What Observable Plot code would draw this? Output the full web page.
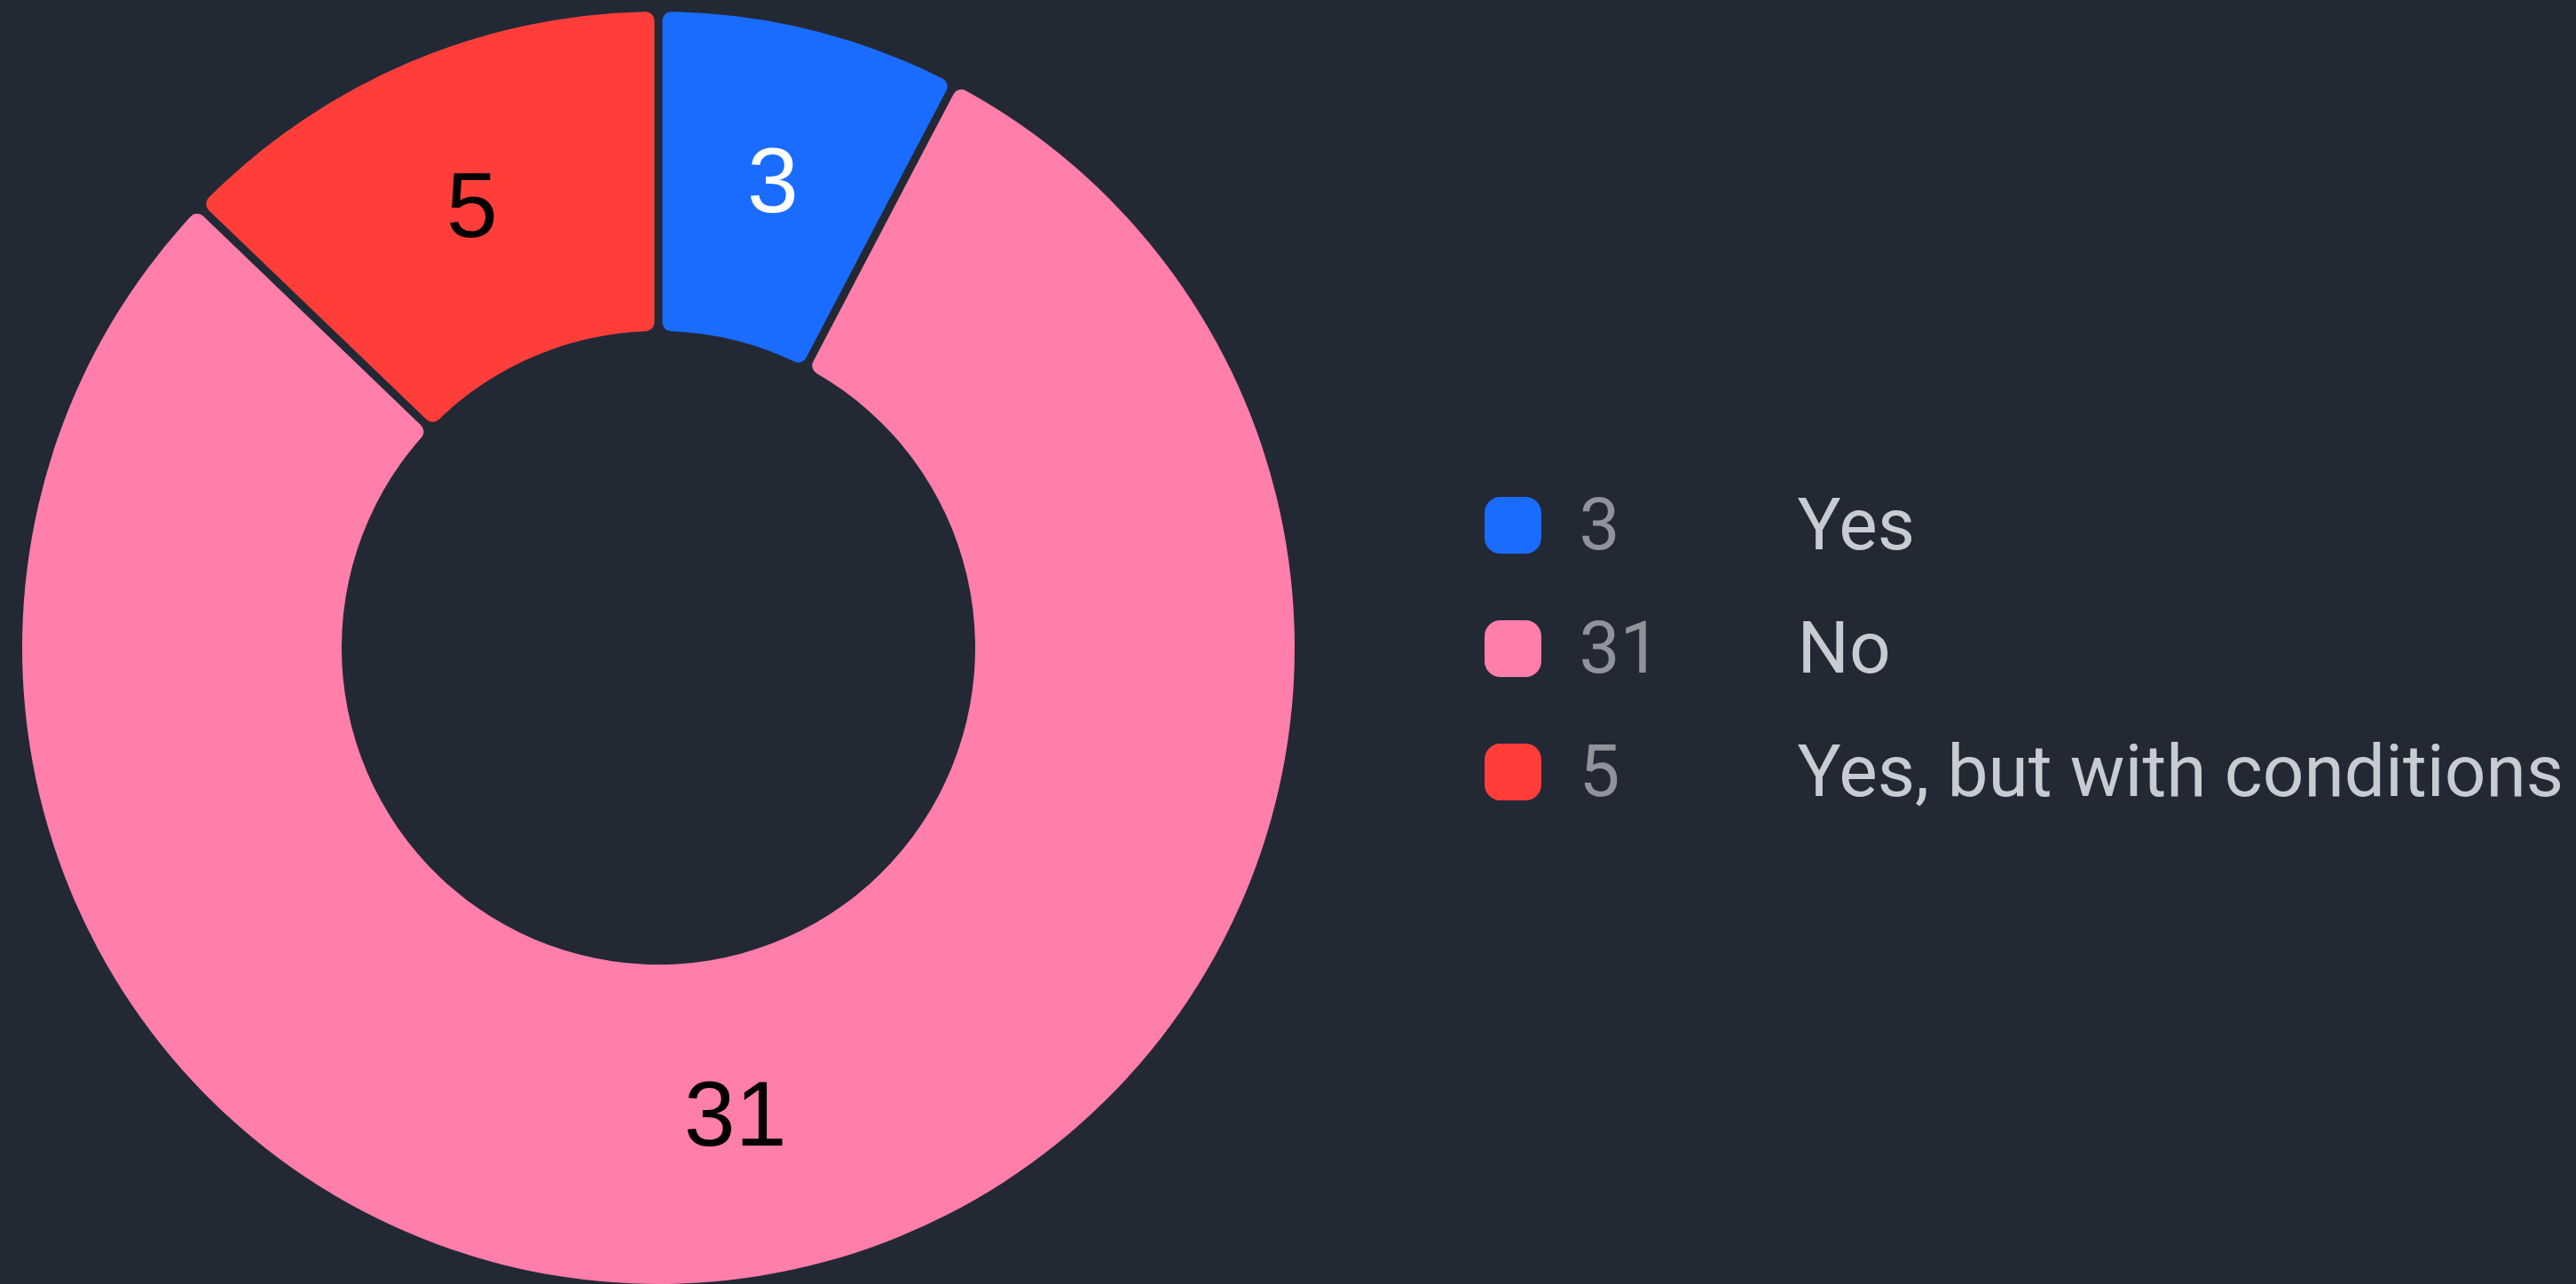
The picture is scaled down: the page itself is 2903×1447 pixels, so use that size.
<!DOCTYPE html>
<html>
<head>
<meta charset="utf-8">
<script src="https://cdn.jsdelivr.net/npm/d3@7"></script>
<script src="https://cdn.jsdelivr.net/npm/@observablehq/plot@0.6"></script>
<style>
  html, body { margin: 0; padding: 0; background: #232835; }
  #page { position: relative; width: 2903px; height: 1447px; overflow: hidden; background: #232835; }
  #donut { position: absolute; left: 0; top: 0; }
  #legend { position: absolute; left: 1640px; top: 0; }
</style>
</head>
<body>
<div id="page"><div id="donut"></div><div id="legend"></div></div>
<script>
// ---- data ----
const categories = ["Yes", "No", "Yes, but with conditions"];
const counts = [3, 31, 5];
const colors = ["#1a6cff", "#ff7eaa", "#ff3e3a"];
const labelColors = ["#ffffff", "#000000", "#000000"];

// ---- layout ----
const W = 1500, H = 1447, CX = 742, CY = 730, R_OUT = 717, R_IN = 357;
const GAP = 9, CORNER = 10;

const data = categories.map((c, i) => ({category: c, count: counts[i], labelColor: labelColors[i]}));
const colorScale = Plot.scale({color: {type: "ordinal", domain: categories, range: colors}});

const ri = R_IN / R_OUT;
const pie = d3.pie().sort(null).value(d => d.count)(data);
const unitArc = d3.arc().innerRadius(ri).outerRadius(1);
const slices = pie.map(p => {
  const [ux, uy] = unitArc.centroid(p);
  return {...p, category: p.data.category, count: p.data.count, labelColor: p.data.labelColor, cx: ux, cy: -uy};
});

function arcsMark(index, scales) {
  const x0 = scales.x(0), y0 = scales.y(0);
  const rPx = scales.x(1) - x0;
  const arc = d3.arc()
    .innerRadius(ri * rPx)
    .outerRadius(rPx)
    .padAngle(GAP / Math.hypot(ri * rPx, rPx))
    .cornerRadius(CORNER);
  const g = d3.create("svg:g").attr("transform", `translate(${x0},${y0})`);
  g.selectAll("path").data(slices).join("path")
    .attr("d", arc)
    .attr("fill", d => colorScale.apply(d.category));
  return g.node();
}

const donut = Plot.plot({
  width: W,
  height: H,
  margin: 0,
  style: {background: "none", maxWidth: "none", fontFamily: "'Liberation Sans', Arial, sans-serif"},
  x: {domain: [-1, 1], range: [CX - R_OUT, CX + R_OUT], axis: null},
  y: {domain: [-1, 1], range: [CY + R_OUT, CY - R_OUT], axis: null},
  marks: [
    arcsMark,
    Plot.text(slices, {
      x: "cx", y: "cy",
      text: d => String(d.count),
      fill: "labelColor",
      fontSize: 104,
      dy: -3
    })
  ]
});
document.getElementById("donut").appendChild(donut);

const legend = Plot.plot({
  width: 1263,
  height: H,
  margin: 0,
  style: {background: "none", maxWidth: "none", fontFamily: "Roboto, 'Liberation Sans', sans-serif"},
  x: {type: "band", domain: ["swatch"], range: [33, 97], padding: 0, axis: null},
  y: {type: "band", domain: categories, range: [522, 939], paddingInner: 0.54, paddingOuter: 0.27, axis: null},
  color: {domain: categories, range: colors},
  marks: [
    Plot.cell(data, {x: () => "swatch", y: "category", fill: "category", rx: 18}),
    Plot.text(data, {x: () => "swatch", y: "category", text: d => String(d.count), textAnchor: "start", dx: 74, fill: "#8f939c", fontSize: 82}),
    Plot.text(data, {x: () => "swatch", y: "category", text: "category", textAnchor: "start", dx: 320, fill: "#c8cbd1", fontSize: 82})
  ]
});
document.getElementById("legend").appendChild(legend);
</script>
</body>
</html>
